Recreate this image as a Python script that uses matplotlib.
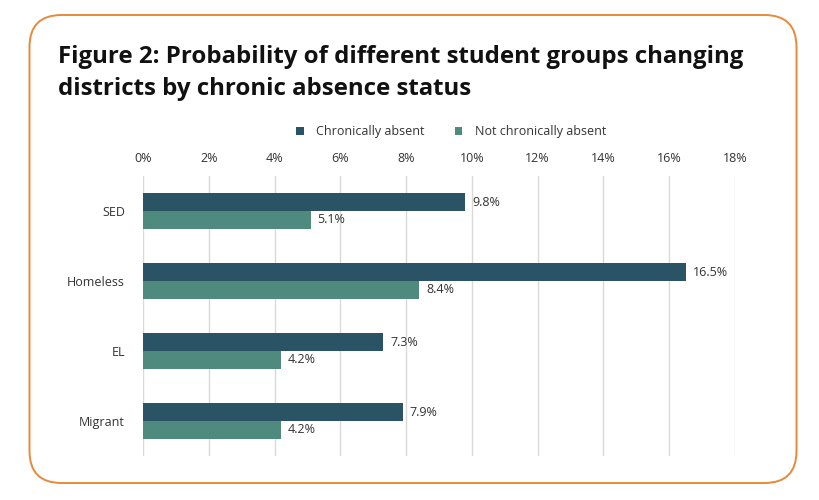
import numpy as np
import matplotlib.pyplot as plt
from matplotlib.patches import FancyBboxPatch
from matplotlib.ticker import FuncFormatter

plt.rcParams['font.family'] = ['Open Sans', 'DejaVu Sans']

groups = ['SED', 'Homeless', 'EL', 'Migrant']
chronic = [9.8, 16.5, 7.3, 7.9]
not_chronic = [5.1, 8.4, 4.2, 4.2]
series_names = ['Chronically absent', 'Not chronically absent']

dark = '#2b5366'
green = '#4f8a7e'

fig = plt.figure(figsize=(8.19, 5), dpi=100)

# orange rounded frame, drawn in inches
box = FancyBboxPatch((0.295, 0.17), 7.67, 4.68,
                     boxstyle='round,pad=0,rounding_size=0.32',
                     transform=fig.dpi_scale_trans, facecolor='none',
                     edgecolor='#e8893a', linewidth=1.4, zorder=-1)
fig.patches.append(box)

fig.text(58/819, 1 - 57/500, 'Figure 2: Probability of different student groups changing',
         fontsize=17.25, fontweight='bold', va='center', color='#111111')
fig.text(58/819, 1 - 89/500, 'districts by chronic absence status',
         fontsize=17.25, fontweight='bold', va='center', color='#111111')

ax = fig.add_axes([143/819, 44/500, 592/819, 280/500])
ax.set_facecolor('none')

y = np.arange(len(groups))
h = 0.255
b1 = ax.barh(y - h/2, chronic, height=h, color=dark, label=series_names[0], zorder=3)
b2 = ax.barh(y + h/2, not_chronic, height=h, color=green, label=series_names[1], zorder=3)

for bars, vals in ((b1, chronic), (b2, not_chronic)):
    for bar, v in zip(bars, vals):
        ax.annotate(f'{v:.1f}%', (bar.get_width(), bar.get_y() + bar.get_height()/2),
                    xytext=(5, 0), textcoords='offset points', va='center', ha='left',
                    fontsize=9, color='#333333')

ax.set_xlim(0, 18)
ax.set_ylim(len(groups) - 0.5, -0.5)
ax.set_xticks(np.arange(0, 19, 2))
ax.xaxis.set_major_formatter(FuncFormatter(lambda v, p: f'{v:.0f}%'))
ax.xaxis.tick_top()
ax.set_yticks(y)
ax.set_yticklabels(groups)
ax.tick_params(axis='x', length=0, pad=8, labelsize=9, labelcolor='#333333')
ax.tick_params(axis='y', length=0, pad=13, labelsize=9, labelcolor='#333333')
ax.grid(axis='x', color='#d9d9d9', linewidth=1, zorder=0)
for s in ax.spines.values():
    s.set_visible(False)

fig.legend(handles=[b1, b2], labels=series_names, loc='center', ncol=2,
           bbox_to_anchor=(451/819, 1 - 132/500), frameon=False, fontsize=9,
           handlelength=0.6, handleheight=0.6, handletextpad=1.0, columnspacing=2.4,
           labelcolor='#333333')

fig.savefig('out.png', dpi=100)
